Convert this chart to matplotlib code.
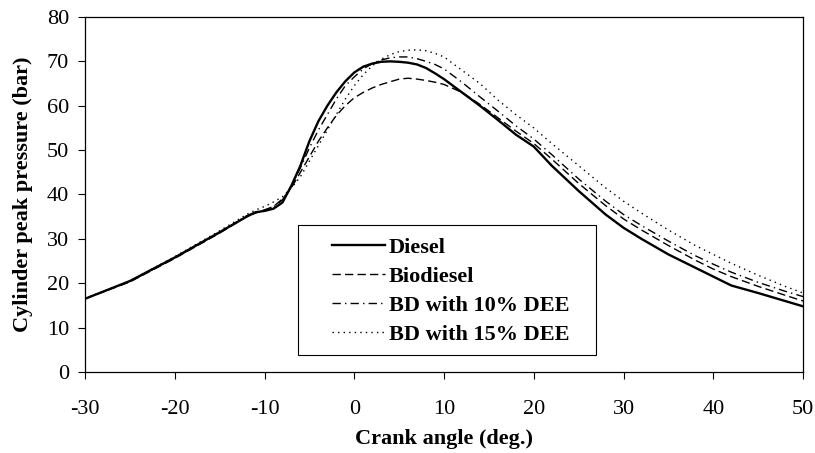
import matplotlib
matplotlib.use("Agg")
import matplotlib.pyplot as plt
from matplotlib.patches import Rectangle

# crank angle (deg.)
angle = [-30, -25, -20, -15, -12, -11, -10, -9, -8, -7, -6, -5, -4, -3, -2, -1,
         0, 1, 2, 3, 4, 5, 6, 7, 8, 9, 10, 12, 14, 16, 18, 20, 22, 25, 28, 30,
         32, 35, 38, 40, 42, 45, 48, 50]

# cylinder pressure (bar)
diesel = [16.5, 20.5, 25.8, 31.5, 35.0, 36.0, 36.3, 36.8, 38.2, 42.0, 46.5, 52.0,
          56.5, 60.0, 63.0, 65.5, 67.5, 68.8, 69.5, 69.9, 70.0, 69.9, 69.7, 69.3,
          68.5, 67.3, 66.0, 63.0, 60.0, 56.8, 53.5, 50.8, 46.5, 40.8, 35.5, 32.5,
          30.0, 26.5, 23.5, 21.5, 19.5, 17.8, 16.0, 14.8]
biodiesel = [16.5, 20.3, 25.6, 31.3, 35.0, 35.8, 36.5, 37.3, 39.0, 41.5, 45.0, 48.5,
             52.0, 55.0, 57.8, 60.0, 61.8, 63.0, 64.0, 64.8, 65.4, 66.0, 66.2, 66.0,
             65.7, 65.3, 64.8, 63.0, 60.3, 57.3, 54.3, 51.5, 48.0, 42.5, 37.5, 34.5,
             32.0, 28.5, 25.2, 23.2, 21.5, 19.3, 17.3, 16.0]
bd10 = [16.5, 20.4, 25.7, 31.4, 35.2, 36.0, 36.5, 37.2, 38.8, 42.0, 46.0, 50.5,
        54.5, 58.0, 61.5, 64.5, 66.5, 68.3, 69.5, 70.3, 70.8, 71.0, 71.0, 70.6,
        70.0, 69.3, 68.3, 65.3, 62.0, 58.8, 55.5, 52.5, 49.0, 43.5, 38.5, 35.5,
        33.0, 29.5, 26.2, 24.3, 22.5, 20.2, 18.2, 17.0]
bd15 = [16.6, 20.5, 26.0, 31.8, 35.5, 36.5, 37.3, 38.3, 39.5, 41.5, 44.0, 47.5,
        51.0, 54.5, 58.0, 61.5, 64.5, 67.0, 69.0, 70.5, 71.5, 72.2, 72.5, 72.6,
        72.4, 71.8, 71.0, 68.0, 65.0, 61.3, 58.0, 55.0, 51.5, 46.5, 41.5, 38.5,
        35.8, 32.0, 28.5, 26.5, 24.5, 21.8, 19.3, 17.8]

plt.rcParams['font.family'] = ['Liberation Serif', 'DejaVu Serif']
plt.rcParams['axes.unicode_minus'] = False

fig = plt.figure(figsize=(8.15, 4.53), dpi=100)
ax = fig.add_axes([0.1043, 0.1788, 0.881, 0.7837])

ax.plot(angle, diesel, color="black", lw=1.7, ls="-", label="Diesel")
ax.plot(angle, biodiesel, color="black", lw=1.0, ls=(0, (6, 3)), label="Biodiesel")
ax.plot(angle, bd10, color="black", lw=1.0, ls=(0, (6, 3, 1, 3)), label="BD with 10% DEE")
ax.plot(angle, bd15, color="black", lw=1.0, ls=(0, (1, 3)), label="BD with 15% DEE")

ax.set_xlim(-30, 50)
ax.set_ylim(0, 80)
ax.set_xticks(range(-30, 51, 10))
ax.set_yticks(range(0, 81, 10))
ax.tick_params(direction="out", length=5, width=0.8, labelsize=16,
               top=False, right=False)
ax.tick_params(axis="x", pad=15)
ax.tick_params(axis="y", pad=6.5)
for s in ax.spines.values():
    s.set_linewidth(0.9)

ax.set_xlabel("Crank angle (deg.)", fontsize=16, fontweight="bold", labelpad=7)
ax.set_ylabel("Cylinder peak pressure (bar)", fontsize=16, fontweight="bold", labelpad=10)

# legend box drawn separately (wider left padding than the legend allows)
ax.add_patch(Rectangle((0.2967, 0.048), 0.415, 0.366, transform=ax.transAxes,
                       facecolor="white", edgecolor="black", lw=0.8, zorder=4))
leg = ax.legend(loc="center", bbox_to_anchor=(0.509, 0.227), frameon=False,
                handlelength=2.4, labelspacing=0.38, borderpad=0,
                handletextpad=0.15, borderaxespad=0,
                prop={"weight": "bold", "size": 16})
leg.set_zorder(5)

fig.savefig("out.png", dpi=100)
